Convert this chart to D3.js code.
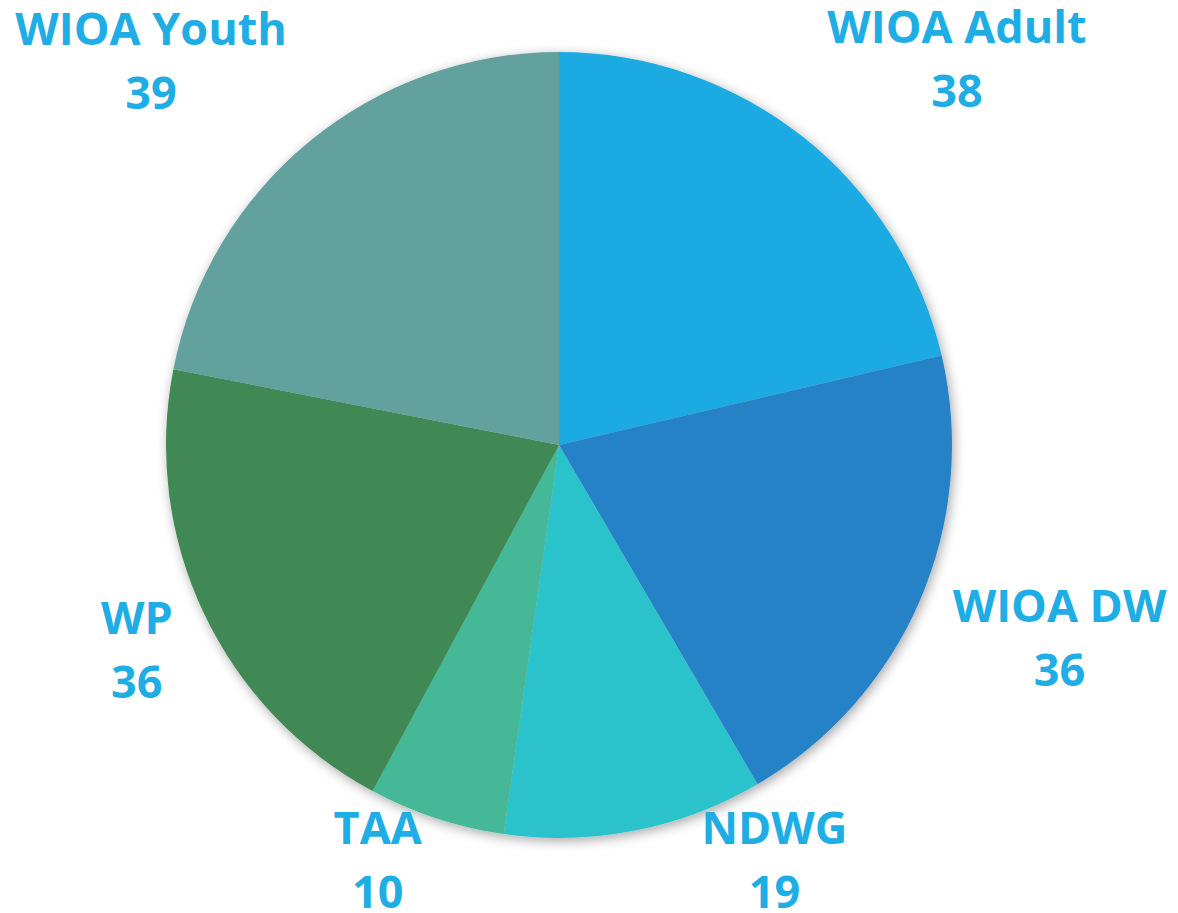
<!DOCTYPE html>
<meta charset="utf-8">
<style>
  body { margin: 0; background: #fff; }
  .lbl { font: 700 45px "Open Sans", sans-serif; fill: #1fade5; }
</style>
<body>
<script src="https://cdn.jsdelivr.net/npm/d3@7"></script>
<script>
  // chart data
  const programs = ["WIOA Adult", "WIOA DW", "NDWG", "TAA", "WP", "WIOA Youth"];
  const counts = [38, 36, 19, 10, 36, 39];
  const colors = ["#1faae2", "#2882c6", "#29c3cb", "#44b997", "#3f8955", "#63a19e"];

  // label nudges (Excel moves outside labels around to fit)
  const labelNudge = [[81, -2], [32, -24], [117, -101], [-22, -85], [39, -29], [-84, -6]];

  const width = 1178, height = 913,
        cx = 559, cy = 445, radius = 393, labelR = 510;

  const svg = d3.select("body").append("svg")
      .attr("width", width)
      .attr("height", height);

  const defs = svg.append("defs");
  defs.append("filter")
      .attr("id", "shadow")
      .attr("x", "-20%").attr("y", "-20%")
      .attr("width", "140%").attr("height", "140%")
    .append("feDropShadow")
      .attr("dx", 2).attr("dy", 3)
      .attr("stdDeviation", 6)
      .attr("flood-color", "#000")
      .attr("flood-opacity", 0.35);

  const data = programs.map((p, i) => ({ name: p, value: counts[i], color: colors[i], nudge: labelNudge[i] }));

  const pie = d3.pie().sort(null).value(d => d.value);
  const arc = d3.arc().innerRadius(0).outerRadius(radius);
  const arcs = pie(data);

  const g = svg.append("g").attr("transform", `translate(${cx},${cy})`);

  g.append("g")
      .attr("filter", "url(#shadow)")
    .selectAll("path")
    .data(arcs)
    .join("path")
      .attr("d", arc)
      .attr("fill", d => d.data.color);

  const labels = g.append("g")
    .selectAll("text")
    .data(arcs)
    .join("text")
      .attr("class", "lbl")
      .attr("text-anchor", "middle")
      .attr("transform", d => {
        const a = (d.startAngle + d.endAngle) / 2;
        const x = labelR * Math.sin(a) + d.data.nudge[0];
        const y = -labelR * Math.cos(a) + d.data.nudge[1];
        return `translate(${x},${y})`;
      });

  labels.append("tspan").attr("x", 0).attr("y", 0).text(d => d.data.name);
  labels.append("tspan").attr("x", 0).attr("y", 64).text(d => d.data.value);
</script>
</body>
